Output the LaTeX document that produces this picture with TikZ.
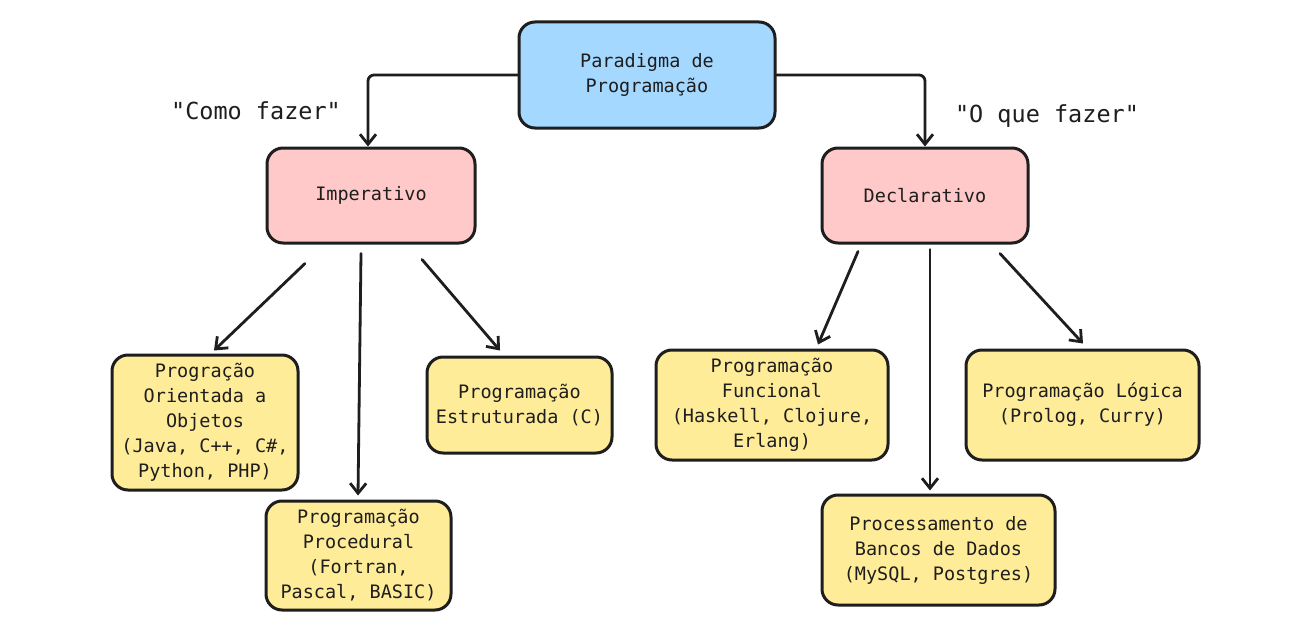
\documentclass[tikz,border=0pt]{standalone}
\usepackage{fontspec}
\setmonofont{DejaVu Sans Mono}
\usetikzlibrary{arrows.meta}
\definecolor{cblue}{HTML}{A5D8FF}
\definecolor{cpink}{HTML}{FFC9C9}
\definecolor{cyellow}{HTML}{FFEC99}
\definecolor{ink}{HTML}{1E1E1E}
\tikzset{
  box/.style={draw=ink, line width=3pt, rounded corners=16pt, align=center,
    font=\ttfamily\fontsize{18.5}{25}\selectfont, text=ink, inner sep=0pt},
  bluebox/.style={box, fill=cblue},
  pinkbox/.style={box, fill=cpink},
  yelbox/.style={box, fill=cyellow},
  arr/.style={draw=ink, line width=2.8pt, line cap=round, line join=round,
    -{Straight Barb[length=10pt,width=16pt,line width=2.8pt]}},
  lbl/.style={font=\ttfamily\fontsize{23.5}{28}\selectfont, text=ink}
}
\begin{document}
\begin{tikzpicture}[x=1pt,y=-1pt]
\useasboundingbox[fill=white] (0,0) rectangle (1302,626);
\node[bluebox, minimum width=256pt, minimum height=106pt] (para) at (647,75) {Paradigma de\\Programação};
\node[pinkbox, minimum width=208pt, minimum height=95pt] (imp) at (371,195.5) {Imperativo};
\node[pinkbox, minimum width=206pt, minimum height=95pt] (dec) at (925,195.5) {Declarativo};
\node[yelbox, minimum width=186pt, minimum height=135pt] (oop) at (205,422.5) {Progração\\Orientada a\\Objetos\\(Java, C++, C\#,\\Python, PHP)};
\node[yelbox, minimum width=185pt, minimum height=109pt] (proc) at (358.5,555.5) {Programação\\Procedural\\(Fortran,\\Pascal, BASIC)};
\node[yelbox, minimum width=185pt, minimum height=96pt] (estr) at (519.5,405) {Programação\\Estruturada (C)};
\node[yelbox, minimum width=232pt, minimum height=110pt] (func) at (772,405) {Programação\\Funcional\\(Haskell, Clojure,\\Erlang)};
\node[yelbox, minimum width=233pt, minimum height=110pt] (log) at (1082.5,405) {Programação Lógica\\(Prolog, Curry)};
\node[yelbox, minimum width=233pt, minimum height=110pt] (bd) at (938.5,550) {Processamento de\\Bancos de Dados\\(MySQL, Postgres)};
\node[lbl] (como) at (256,111) {"Como fazer"};
\node[lbl] (oque) at (1047,116) {"O que fazer"};
\draw[arr, rounded corners=6pt] (para.west) -| ([xshift=-3pt]imp.north);
\draw[arr, rounded corners=6pt] (para.east) -| (dec.north);
\draw[arr] ([xshift=-66pt,yshift=-19pt]imp.south) -- ([xshift=9pt,yshift=3pt]oop.north);
\draw[arr] ([xshift=-10pt,yshift=-9pt]imp.south) -- ([xshift=-0.5pt,yshift=4pt]proc.north);
\draw[arr] ([xshift=51pt,yshift=-15pt]imp.south) -- ([xshift=-19.5pt,yshift=5pt]estr.north);
\draw[arr] ([xshift=-67pt,yshift=-7pt]dec.south) -- ([xshift=46pt,yshift=4pt]func.north);
\draw[arr] ([xshift=5pt,yshift=-5pt]dec.south) -- ([xshift=-8.5pt,yshift=3pt]bd.north);
\draw[arr] ([xshift=75pt,yshift=-9pt]dec.south) -- ([xshift=0.5pt,yshift=5pt]log.north);
\end{tikzpicture}
\end{document}
